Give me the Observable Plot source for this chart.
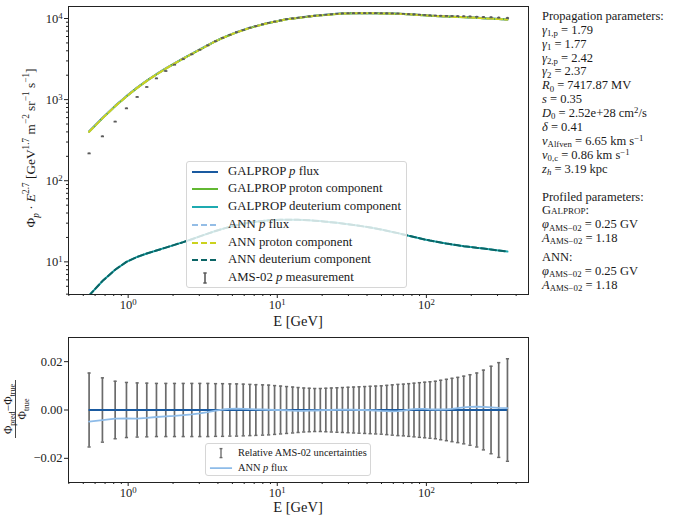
<!DOCTYPE html>
<html><head><meta charset="utf-8">
<script src="https://cdn.jsdelivr.net/npm/d3@7"></script>
<script src="https://cdn.jsdelivr.net/npm/@observablehq/plot@0.6"></script>
<style>
body{margin:0;background:#fff;}
#wrap{position:relative;width:674px;height:523px;font-family:'Liberation Serif','Times New Roman',serif;color:#1a1a1a;overflow:hidden;background:#fff}
.abs{position:absolute}
.leg{position:absolute;background:rgba(255,255,255,0.8);border:1px solid #d6d6d6;border-radius:3px;box-sizing:border-box}
.row{position:absolute;white-space:nowrap}
.params{position:absolute;left:542px;font-size:12.5px;line-height:13.9px;white-space:nowrap}
sub,sup{font-size:70%;line-height:0;position:relative;vertical-align:baseline}
sup{top:-0.45em} sub{top:0.25em}
.sc{font-variant:small-caps}
</style></head><body><div id="wrap"></div>
<script>
// ---------------- data ----------------
const energy = [0.547,0.672,0.818,0.974,1.149,1.333,1.548,1.788,2.045,2.340,2.672,3.023,3.421,3.854,4.295,4.807,5.332,5.913,6.549,7.185,7.966,8.744,9.592,10.52,11.54,12.67,13.79,15.04,16.38,17.82,19.44,21.16,23.04,25.12,27.35,29.82,32.47,35.35,38.54,41.96,45.68,49.81,54.23,59.04,64.39,70.08,76.06,82.57,89.75,97.40,105.7,114.9,124.7,136.2,148.5,162.3,178.0,196.1,217.6,241.3,271.4,305.6,349.7];
const galpropFlux = [406,593,838,1104,1407,1714,2057,2427,2800,3221,3673,4150,4690,5272,5770,6295,6775,7211,7690,8054,8473,8831,9141,9462,9817,10018,10210,10420,10610,10810,10960,11110,11270,11430,11540,11580,11610,11640,11640,11620,11610,11580,11540,11490,11450,11380,11270,11170,11060,10950,10850,10760,10690,10610,10540,10470,10400,10300,10200,10100,9980,9860,9730];
const galpropProton = [402,587,830,1094,1396,1701,2043,2412,2784,3204,3654,4129,4668,5248,5745,6268,6747,7182,7660,8023,8441,8799,9108,9429,9784,9985,10177,10387,10578,10778,10928,11079,11239,11400,11510,11551,11582,11612,11613,11594,11584,11555,11516,11467,11427,11358,11249,11150,11040,10931,10832,10742,10673,10593,10524,10454,10384,10285,10185,10085,9966,9846,9717];
const galpropDeut = [3.85,5.8,8.0,10.0,11.5,12.7,13.8,15.0,16.2,17.5,19.0,20.6,22.3,24.0,25.5,27.0,28.3,29.5,30.5,31.3,32.0,32.5,32.8,33.0,33.1,33.1,33.0,32.8,32.5,32.2,31.8,31.3,30.8,30.3,29.7,29.1,28.5,27.9,27.2,26.5,25.8,25.0,24.2,23.4,22.6,21.8,21.0,20.3,19.6,18.9,18.3,17.8,17.3,16.8,16.4,16.0,15.6,15.3,14.9,14.6,14.2,13.8,13.4];
const amsFlux = [217,352,535,780,1077,1430,1825,2250,2690,3150,3620,4110,4660,5240,5760,6280,6770,7200,7680,8050,8470,8830,9140,9460,9810,10010,10200,10420,10610,10810,10960,11110,11270,11430,11540,11590,11620,11650,11650,11640,11630,11600,11570,11530,11490,11430,11330,11240,11140,11040,10900,10850,10800,10750,10710,10670,10630,10560,10490,10410,10320,10220,10120];
const amsRelErr = [0.0153,0.0133,0.0119,0.0114,0.0112,0.0111,0.0110,0.0110,0.0110,0.0110,0.0110,0.0110,0.0110,0.0109,0.0109,0.0108,0.0108,0.0107,0.0106,0.0105,0.0104,0.0103,0.0101,0.0099,0.0097,0.0095,0.0093,0.0091,0.0090,0.0089,0.0089,0.0090,0.0091,0.0092,0.0093,0.0094,0.0095,0.0096,0.0097,0.0098,0.0099,0.0100,0.0102,0.0104,0.0106,0.0107,0.0109,0.0111,0.0113,0.0115,0.0117,0.0119,0.0123,0.0127,0.0131,0.0135,0.0140,0.0146,0.0153,0.0165,0.0181,0.0196,0.0212];
const annRel = [-0.0048,-0.0042,-0.0036,-0.0035,-0.0036,-0.0033,-0.0029,-0.0026,-0.0024,-0.0021,-0.0018,-0.0014,-0.0009,-0.0003,0.0002,0.0005,0.0006,0.0005,0.0004,0.0003,0.0002,0.0001,0.0000,0.0000,-0.0001,-0.0003,-0.0004,-0.0004,-0.0003,-0.0002,-0.0001,0.0000,0.0000,0.0001,0.0001,0.0001,0.0001,0.0000,0.0000,-0.0001,-0.0002,-0.0004,-0.0005,-0.0006,-0.0005,-0.0003,0.0001,0.0004,0.0005,0.0005,0.0003,0.0002,0.0002,0.0003,0.0005,0.0008,0.0011,0.0013,0.0014,0.0013,0.0011,0.0009,0.0008];

const xMajor = [1, 10, 100];
const xMinor = [0.4,0.5,0.6,0.7,0.8,0.9,2,3,4,5,6,7,8,9,20,30,40,50,60,70,80,90,200,300,400];
const yMajorTop = [10, 100, 1000, 10000];
const yMinorTop = [4,5,6,7,8,9,20,30,40,50,60,70,80,90,200,300,400,500,600,700,800,900,2000,3000,4000,5000,6000,7000,8000,9000];
const yTicksBottom = [-0.02, 0, 0.02];

const topLegend = ["GALPROP <i>p</i> flux","GALPROP proton component","GALPROP deuterium component","ANN <i>p</i> flux","ANN proton component","ANN deuterium component","AMS-02 <i>p</i> measurement"];
const bottomLegend = ["Relative AMS-02 uncertainties","ANN <i>p</i> flux"];

const propagationParams = [
  "Propagation parameters:",
  "<i>γ</i><sub>1,p</sub> = 1.79",
  "<i>γ</i><sub>1</sub> = 1.77",
  "<i>γ</i><sub>2,p</sub> = 2.42",
  "<i>γ</i><sub>2</sub> = 2.37",
  "<i>R</i><sub>0</sub> = 7417.87 MV",
  "<i>s</i> = 0.35",
  "<i>D</i><sub>0</sub> = 2.52e+28 cm<sup>2</sup>/s",
  "<i>δ</i> = 0.41",
  "<i>v</i><sub>Alfven</sub> = 6.65 km s<sup>−1</sup>",
  "<i>v</i><sub>0,c</sub> = 0.86 km s<sup>−1</sup>",
  "<i>z</i><sub><i>h</i></sub> = 3.19 kpc",
  "&nbsp;",
  "Profiled parameters:",
  "<span class='sc'>Galprop</span>:",
  "<i>φ</i><sub>AMS−02</sub> = 0.25 GV",
  "<i>A</i><sub>AMS−02</sub> = 1.18"
];
const annParams = ["ANN:", "<i>φ</i><sub>AMS−02</sub> = 0.25 GV", "<i>A</i><sub>AMS−02</sub> = 1.18"];

// ---------------- styles ----------------
const FONT = "'Liberation Serif','Times New Roman',serif";
const C = {gFlux:"#1a5aa0", gProton:"#62b832", gDeut:"#1eaab0", aFlux:"#94bde6", aProton:"#cbd21e", aDeut:"#0b6566", ams:"#5a5a5a", err:"#6b6b6b"};
const DASH = "6,3";

const rows = energy.map((E, i) => ({E, flux: galpropFlux[i], proton: galpropProton[i], deut: galpropDeut[i],
  annFlux: galpropFlux[i] * (1 + annRel[i]), ams: amsFlux[i], err: amsRelErr[i], ann: annRel[i]}));
const xDomain = [0.398, 484];
const capF = 1.025;
const expFmt = d => "10^" + Math.round(Math.log10(d));

const wrap = document.getElementById("wrap");

// ---------------- top panel ----------------
const topPlot = Plot.plot({
  width: 530, height: 335, marginLeft: 68, marginRight: 2, marginTop: 6, marginBottom: 41,
  style: {fontFamily: FONT, fontSize: "12.5px", color: "#222", background: "transparent", overflow: "visible"},
  x: {type: "log", domain: xDomain},
  y: {type: "log", domain: [3.96, 14060]},
  marks: [
    Plot.line(rows, {x: "E", y: "flux", stroke: C.gFlux, strokeWidth: 2, clip: true}),
    Plot.line(rows, {x: "E", y: "proton", stroke: C.gProton, strokeWidth: 2, clip: true}),
    Plot.line(rows, {x: "E", y: "deut", stroke: C.gDeut, strokeWidth: 2, clip: true}),
    Plot.line(rows, {x: "E", y: "annFlux", stroke: C.aFlux, strokeWidth: 2, strokeDasharray: DASH, clip: true}),
    Plot.line(rows, {x: "E", y: "proton", stroke: C.aProton, strokeWidth: 2, strokeDasharray: DASH, clip: true}),
    Plot.line(rows, {x: "E", y: "deut", stroke: C.aDeut, strokeWidth: 2, strokeDasharray: DASH, clip: true}),
    Plot.ruleX(rows, {x: "E", y1: d => d.ams * (1 - d.err), y2: d => d.ams * (1 + d.err), stroke: C.ams, strokeWidth: 1.5}),
    Plot.link(rows, {x1: d => d.E / capF, x2: d => d.E * capF, y1: "ams", y2: "ams", stroke: C.ams, strokeWidth: 1.7}),
    Plot.frame({stroke: "#222"}),
    Plot.axisX({ticks: xMajor, tickSize: 4, tickPadding: 2, tickFormat: expFmt, label: null, fontSize: 12.5}),
    Plot.axisX({ticks: xMinor, tickSize: 2, tickFormat: () => "", label: null}),
    Plot.axisY({ticks: yMajorTop, tickSize: 4, tickPadding: 2, tickFormat: expFmt, label: null, fontSize: 12.5}),
    Plot.axisY({ticks: yMinorTop, tickSize: 2, tickFormat: () => "", label: null})
  ]
});
topPlot.style.position = "absolute"; topPlot.style.left = "0px"; topPlot.style.top = "0px";
wrap.appendChild(topPlot);

// ---------------- bottom panel ----------------
const botPlot = Plot.plot({
  width: 530, height: 193, marginLeft: 68, marginRight: 2, marginTop: 7, marginBottom: 41,
  style: {fontFamily: FONT, fontSize: "12.5px", color: "#222", background: "transparent", overflow: "visible"},
  x: {type: "log", domain: xDomain},
  y: {domain: [-0.03, 0.03]},
  marks: [
    Plot.ruleX(rows, {x: "E", y1: d => -d.err, y2: d => d.err, stroke: C.err, strokeWidth: 1.7}),
    Plot.link(rows, {x1: d => d.E / capF, x2: d => d.E * capF, y1: d => d.err, y2: d => d.err, stroke: C.err, strokeWidth: 1.5}),
    Plot.link(rows, {x1: d => d.E / capF, x2: d => d.E * capF, y1: d => -d.err, y2: d => -d.err, stroke: C.err, strokeWidth: 1.5}),
    Plot.ruleY([0], {x1: energy[0], x2: energy[energy.length - 1], stroke: C.gFlux, strokeWidth: 2.2}),
    Plot.line(rows, {x: "E", y: "ann", stroke: "#8dbbe8", strokeWidth: 1.8}),
    Plot.frame({stroke: "#222"}),
    Plot.axisX({ticks: xMajor, tickSize: 4, tickPadding: 2, tickFormat: expFmt, label: null, fontSize: 12.5}),
    Plot.axisX({ticks: xMinor, tickSize: 2, tickFormat: () => "", label: null}),
    Plot.axisY({ticks: yTicksBottom, tickSize: 4, tickPadding: 2, label: null, fontSize: 12.5,
      tickFormat: d => d === 0 ? "0.00" : (d < 0 ? "−" : "") + Math.abs(d).toFixed(2)})
  ]
});
botPlot.style.position = "absolute"; botPlot.style.left = "0px"; botPlot.style.top = "330px";
wrap.appendChild(botPlot);

// ---------------- superscript tick labels ----------------
const NS = "http://www.w3.org/2000/svg";
for (const svg of [topPlot, botPlot]) {
  svg.querySelectorAll("text").forEach(t => {
    const s = t.textContent;
    if (s.includes("^") && t.children.length === 0) {
      const [b, e] = s.split("^");
      t.textContent = b;
      const ts = document.createElementNS(NS, "tspan");
      ts.setAttribute("dy", "-0.45em");
      ts.setAttribute("font-size", "0.7em");
      ts.textContent = e;
      t.appendChild(ts);
    }
  });
}

// rich text helper (sub/superscripts via tspans)
function richText(sel, parts, fs) {
  const t = sel.append("text").attr("font-size", fs).attr("fill", "#1a1a1a").attr("font-family", FONT);
  let off = 0;
  for (const p of parts) {
    const target = p.v === "sup" ? -0.42 * fs : p.v === "sub" ? 0.28 * fs : 0;
    const ts = t.append("tspan").text(p.t).attr("dy", target - off);
    if (p.v) ts.attr("font-size", fs * 0.7);
    if (p.i) ts.attr("font-style", "italic");
    off = target;
  }
  return t;
}

// top axis labels
const st = d3.select(topPlot);
st.append("text").attr("x", 298).attr("y", 326).attr("text-anchor", "middle").attr("font-size", 14.5)
  .attr("font-family", FONT).attr("fill", "#1a1a1a").text("E [GeV]");
richText(st.append("g").attr("transform", "translate(35,148) rotate(-90)"), [
  {t: "Φ"}, {t: "p", v: "sub", i: true}, {t: " · "}, {t: "E", i: true}, {t: "2.7", v: "sup"},
  {t: " [GeV"}, {t: "1.7", v: "sup"}, {t: " m"}, {t: "−2", v: "sup"}, {t: " sr"}, {t: "−1", v: "sup"},
  {t: " s"}, {t: "−1", v: "sup"}, {t: "]"}], 13.3).attr("text-anchor", "middle");

// bottom axis labels
const sb = d3.select(botPlot);
sb.append("text").attr("x", 298).attr("y", 182).attr("text-anchor", "middle").attr("font-size", 14.5)
  .attr("font-family", FONT).attr("fill", "#1a1a1a").text("E [GeV]");
const gf = sb.append("g").attr("transform", "translate(15.5,79) rotate(-90)");
richText(gf.append("g").attr("transform", "translate(0,-4)"), [
  {t: "Φ"}, {t: "pred", v: "sub"}, {t: "−Φ"}, {t: "true", v: "sub"}], 11.5).attr("text-anchor", "middle");
gf.append("line").attr("x1", -29).attr("x2", 29).attr("y1", 0).attr("y2", 0).attr("stroke", "#1a1a1a").attr("stroke-width", 0.8);
richText(gf.append("g").attr("transform", "translate(0,10.5)"), [
  {t: "Φ"}, {t: "true", v: "sub"}], 11.5).attr("text-anchor", "middle");

// ---------------- legends ----------------
function sample(kind, color) {
  if (kind === "err") {
    return `<svg width="28" height="14"><line x1="14" x2="14" y1="2" y2="12" stroke="${color}" stroke-width="1.6"/>` +
      `<line x1="12.3" x2="15.7" y1="2" y2="2" stroke="${color}" stroke-width="1.5"/><line x1="12.3" x2="15.7" y1="12" y2="12" stroke="${color}" stroke-width="1.5"/></svg>`;
  }
  return `<svg width="28" height="14"><line x1="1" x2="27" y1="7" y2="7" stroke="${color}" stroke-width="2" ${kind === "dash" ? `stroke-dasharray="${DASH}"` : ""}/></svg>`;
}
const legT = document.createElement("div");
legT.className = "leg";
Object.assign(legT.style, {left: "186px", top: "161px", width: "221px", height: "127px", fontSize: "12.8px"});
const topKinds = [["line", C.gFlux], ["line", C.gProton], ["line", C.gDeut], ["dash", C.aFlux], ["dash", C.aProton], ["dash", C.aDeut], ["err", C.ams]];
topLegend.forEach((lab, k) => {
  const yc = 9.7 + 17.7 * k;
  const r = document.createElement("div");
  r.className = "row";
  r.style.top = (yc - 7) + "px"; r.style.left = "4px"; r.style.height = "14px";
  r.innerHTML = `<span class="abs" style="left:0;top:0">${sample(topKinds[k][0], topKinds[k][1])}</span>` +
    `<span class="abs" style="left:37px;top:-1px;line-height:15px">${lab}</span>`;
  legT.appendChild(r);
});
wrap.appendChild(legT);

const legB = document.createElement("div");
legB.className = "leg";
Object.assign(legB.style, {left: "205px", top: "443px", width: "166px", height: "33px", fontSize: "10.4px"});
const botKinds = [["err", C.err], ["line", "#8dbbe8"]];
bottomLegend.forEach((lab, k) => {
  const yc = 8.7 + 15 * k;
  const r = document.createElement("div");
  r.className = "row";
  r.style.top = (yc - 7) + "px"; r.style.left = "1px"; r.style.height = "14px";
  r.innerHTML = `<span class="abs" style="left:0;top:0;transform:scale(0.85,0.9)">${sample(botKinds[k][0], botKinds[k][1])}</span>` +
    `<span class="abs" style="left:31px;top:0;line-height:14px">${lab}</span>`;
  legB.appendChild(r);
});
wrap.appendChild(legB);

// ---------------- parameter text ----------------
const p1 = document.createElement("div");
p1.className = "params"; p1.style.top = "9.8px";
p1.innerHTML = propagationParams.map(s => `<div>${s}</div>`).join("");
wrap.appendChild(p1);
const p2 = document.createElement("div");
p2.className = "params"; p2.style.top = "250.7px";
p2.innerHTML = annParams.map(s => `<div>${s}</div>`).join("");
wrap.appendChild(p2);
</script>
</body></html>
